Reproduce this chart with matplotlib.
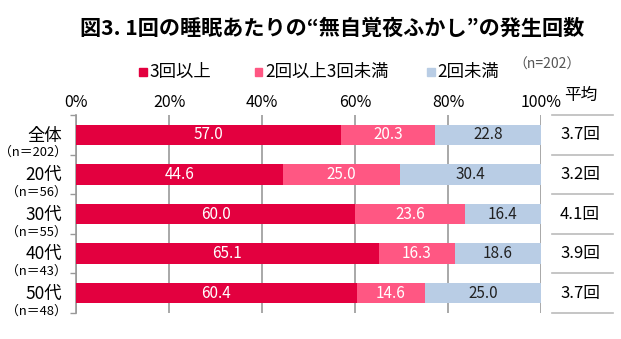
import matplotlib
matplotlib.use("Agg")
import matplotlib.pyplot as plt
import numpy as np

plt.rcParams['font.family'] = ['Noto Sans CJK JP', 'DejaVu Sans']

groups = ["全体", "20代", "30代", "40代", "50代"]
counts = ["（n＝202）", "（n＝56）", "（n＝55）", "（n＝43）", "（n＝48）"]
over3 = [57.0, 44.6, 60.0, 65.1, 60.4]
from2to3 = [20.3, 25.0, 23.6, 16.3, 14.6]
under2 = [22.8, 30.4, 16.4, 18.6, 25.0]
averages = ["3.7回", "3.2回", "4.1回", "3.9回", "3.7回"]
series_names = ["3回以上", "2回以上3回未満", "2回未満"]
colors = ["#E3003F", "#FF5783", "#B9CDE5"]
text_colors = ["white", "white", "#222222"]

fig = plt.figure(figsize=(6.21, 3.39), dpi=100)
ax = fig.add_axes([0.1224, 0.0767, 0.7488, 0.584])

y = np.arange(len(groups))
left = np.zeros(len(groups))
for vals, col, tc in zip([over3, from2to3, under2], colors, text_colors):
    vals = np.array(vals)
    ax.barh(y, vals, left=left, height=0.52, color=col, zorder=3)
    for yi, l, v in zip(y, left, vals):
        ax.text(l + v / 2, yi, f"{v:.1f}", ha="center", va="center",
                color=tc, fontsize=11, zorder=4)
    left = left + vals

ax.set_xlim(0, 100)
ax.set_ylim(4.5, -0.5)
ax.xaxis.tick_top()
ax.set_xticks([0, 20, 40, 60, 80, 100])
ax.set_xticklabels(["0%", "20%", "40%", "60%", "80%", "100%"], fontsize=11.5)
ax.tick_params(axis="x", length=0, pad=3)
ax.set_yticks(np.arange(-0.5, 5, 1))
ax.set_yticklabels([])
ax.tick_params(axis="y", length=4, color="#999999", width=1)
ax.grid(axis="x", color="#999999", lw=1.2, zorder=0)
for s in ["top", "right", "bottom"]:
    ax.spines[s].set_visible(False)
ax.spines["left"].set_color("#999999")
ax.spines["left"].set_linewidth(1.2)

# category labels with sample sizes underneath
for yi, g, n in zip(y, groups, counts):
    ax.text(-3.0, yi + 0.02, g, ha="right", va="center", fontsize=12.5,
            clip_on=False)
    ax.text(-1.9, yi + 0.45, n, ha="right", va="center", fontsize=9.3,
            clip_on=False)

# average column on the right
ax.text(108.6, -1.0, "平均", ha="center", va="center", fontsize=12,
        clip_on=False)
for b in np.arange(-0.5, 5, 1):
    ax.plot([102.3, 115.5], [b, b], color="#BBBBBB", lw=1.2, clip_on=False)
for yi, a in zip(y, averages):
    ax.text(108.4, yi, a, ha="center", va="center", fontsize=12, clip_on=False)

fig.text(0.535, 0.917, "図3. 1回の睡眠あたりの“無自覚夜ふかし”の発生回数",
         ha="center", va="center", fontsize=15.2, fontweight="bold")

# legend row
leg_x = [0.224, 0.41, 0.688]
for lx, name, col in zip(leg_x, series_names, colors):
    fig.patches.append(plt.Rectangle((lx, 0.776), 0.012, 0.022, color=col,
                                     transform=fig.transFigure, figure=fig))
    fig.text(lx + 0.017, 0.787, name, ha="left", va="center", fontsize=12.5)
fig.text(0.826, 0.808, "（n=202）", ha="left", va="center", fontsize=10,
         color="#555555")

fig.savefig("out.png", dpi=100)
